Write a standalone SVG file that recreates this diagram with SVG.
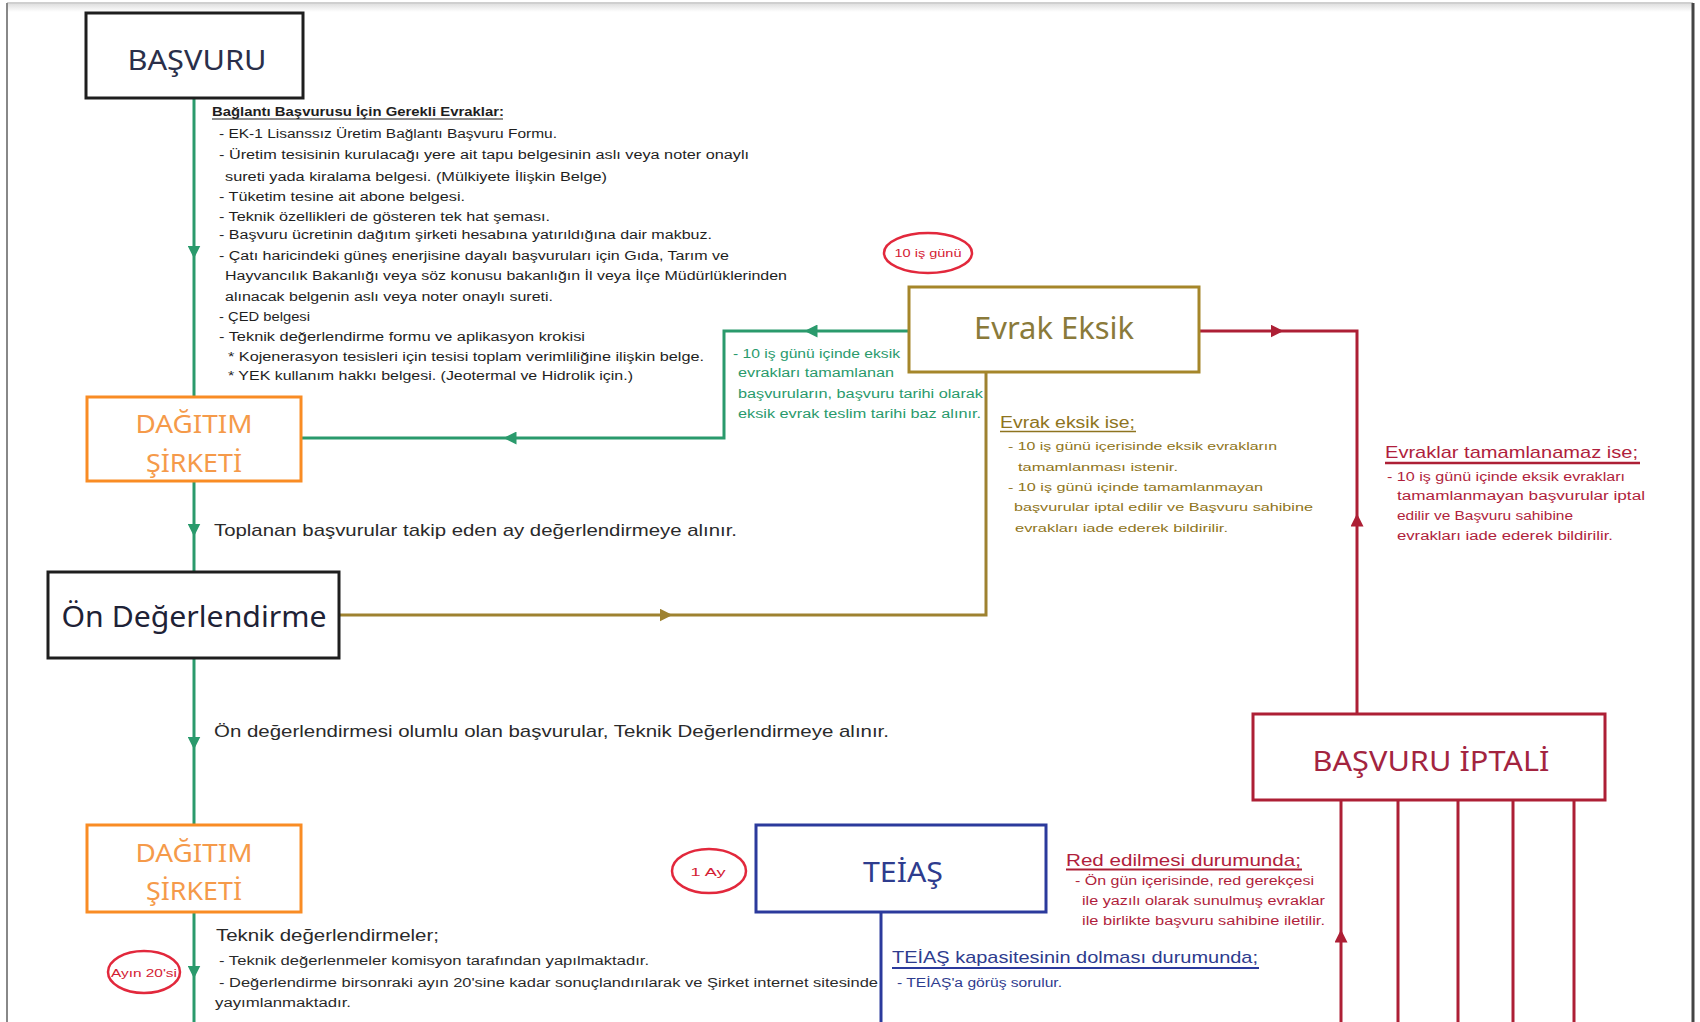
<svg xmlns="http://www.w3.org/2000/svg" width="1700" height="1022" viewBox="0 0 1700 1022">
<defs>
<style>
.box{fill:#fff;stroke-width:3}
.bt{font-family:"Noto Sans","Open Sans","Liberation Sans",sans-serif;text-anchor:middle}
.t{font-family:"Liberation Sans","Noto Sans",Arial,sans-serif}
.blk{fill:#1e1e1e;font-size:12.5px}
.g{stroke:#2a9a6c;stroke-width:3;fill:none}
.o{stroke:#9e8230;stroke-width:3;fill:none}
.r{stroke:#ad1f35;stroke-width:3;fill:none}
.b{stroke:#2b3a9c;stroke-width:3;fill:none}
.ell{fill:#fff;stroke:#e2283c;stroke-width:2.5}
.et{fill:#d42033;font-size:11.5px;text-anchor:middle}
</style>
<marker id="ag" markerUnits="userSpaceOnUse" markerWidth="13" markerHeight="13" refX="6.5" refY="6.5" orient="auto"><path d="M0,0 L13,6.5 L0,13 z" fill="#2a9a6c"/></marker>
<marker id="ao" markerUnits="userSpaceOnUse" markerWidth="13" markerHeight="13" refX="6.5" refY="6.5" orient="auto"><path d="M0,0 L13,6.5 L0,13 z" fill="#9e8230"/></marker>
<marker id="ar" markerUnits="userSpaceOnUse" markerWidth="13" markerHeight="13" refX="6.5" refY="6.5" orient="auto"><path d="M0,0 L13,6.5 L0,13 z" fill="#ad1f35"/></marker>
<linearGradient id="sh" x1="0" y1="0" x2="0" y2="1"><stop offset="0" stop-color="#d8d8d8"/><stop offset="1" stop-color="#fff"/></linearGradient>
</defs>
<rect width="1700" height="1022" fill="#fff"/>
<g id="frame">
<rect x="7" y="2" width="1686" height="10" fill="url(#sh)"/>
<line x1="7" y1="3" x2="1693" y2="3" stroke="#cfcfcf" stroke-width="2"/>
<line x1="7" y1="3" x2="7" y2="1022" stroke="#888" stroke-width="2"/>
<line x1="1693" y1="3" x2="1693" y2="1022" stroke="#444" stroke-width="3"/>
</g>
<g id="connectors">
<path class="g" d="M194 98 L194 252" marker-end="url(#ag)"/>
<path class="g" d="M194 252 L194 397"/>
<path class="g" d="M194 481 L194 530" marker-end="url(#ag)"/>
<path class="g" d="M194 530 L194 572"/>
<path class="g" d="M194 658 L194 743" marker-end="url(#ag)"/>
<path class="g" d="M194 743 L194 826"/>
<path class="g" d="M194 912 L194 972" marker-end="url(#ag)"/>
<path class="g" d="M194 972 L194 1022"/>
<path class="g" d="M909 331 L811 331" marker-end="url(#ag)"/>
<path class="g" d="M811 331 L724 331 L724 438 L510 438" marker-end="url(#ag)"/>
<path class="g" d="M510 438 L301 438"/>
<path class="o" d="M339 615 L666 615" marker-end="url(#ao)"/>
<path class="o" d="M666 615 L986 615 L986 372"/>
<path class="r" d="M1199 331 L1277 331" marker-end="url(#ar)"/>
<path class="r" d="M1277 331 L1357 331 L1357 520"/>
<path class="r" d="M1357 713 L1357 520" marker-end="url(#ar)"/>
<path class="r" d="M1341 1022 L1341 936" marker-end="url(#ar)"/>
<path class="r" d="M1341 936 L1341 800"/>
<path class="r" d="M1398 800 L1398 1022"/>
<path class="r" d="M1458 800 L1458 1022"/>
<path class="r" d="M1513 800 L1513 1022"/>
<path class="r" d="M1574 800 L1574 1022"/>
<path class="b" d="M881 912 L881 1022"/>
</g>
<g id="basvuru">
<rect class="box" x="86" y="13" width="217" height="85" stroke="#1e1e1e"/>
<text class="bt" x="197" y="70" font-size="28" fill="#2a2f4a" textLength="139" lengthAdjust="spacingAndGlyphs">BAŞVURU</text>
</g>
<g id="evrak-listesi" class="t blk">
<text x="212" y="116" font-weight="bold" textLength="292" lengthAdjust="spacingAndGlyphs">Bağlantı Başvurusu İçin Gerekli Evraklar:</text>
<line x1="212" y1="119" x2="503" y2="119" stroke="#1e1e1e" stroke-width="1.2"/>
<text x="219" y="137.5" textLength="338" lengthAdjust="spacingAndGlyphs">- EK-1 Lisanssız Üretim Bağlantı Başvuru Formu.</text>
<text x="219" y="159" textLength="530" lengthAdjust="spacingAndGlyphs">- Üretim tesisinin kurulacağı yere ait tapu belgesinin aslı veya noter onaylı</text>
<text x="225" y="180.5" textLength="382" lengthAdjust="spacingAndGlyphs">sureti yada kiralama belgesi. (Mülkiyete İlişkin Belge)</text>
<text x="219" y="200.5" textLength="246" lengthAdjust="spacingAndGlyphs">- Tüketim tesine ait abone belgesi.</text>
<text x="219" y="221" textLength="331" lengthAdjust="spacingAndGlyphs">- Teknik özellikleri de gösteren tek hat şeması.</text>
<text x="219" y="239" textLength="493" lengthAdjust="spacingAndGlyphs">- Başvuru ücretinin dağıtım şirketi hesabına yatırıldığına dair makbuz.</text>
<text x="219" y="259.5" textLength="510" lengthAdjust="spacingAndGlyphs">- Çatı haricindeki güneş enerjisine dayalı başvuruları için Gıda, Tarım ve</text>
<text x="225" y="280" textLength="562" lengthAdjust="spacingAndGlyphs">Hayvancılık Bakanlığı veya söz konusu bakanlığın İl veya İlçe Müdürlüklerinden</text>
<text x="225" y="300.5" textLength="328" lengthAdjust="spacingAndGlyphs">alınacak belgenin aslı veya noter onaylı sureti.</text>
<text x="219" y="320.5" textLength="91" lengthAdjust="spacingAndGlyphs">- ÇED belgesi</text>
<text x="219" y="340.5" textLength="366" lengthAdjust="spacingAndGlyphs">- Teknik değerlendirme formu ve aplikasyon krokisi</text>
<text x="228" y="361" textLength="476" lengthAdjust="spacingAndGlyphs">* Kojenerasyon tesisleri için tesisi toplam verimliliğine ilişkin belge.</text>
<text x="228" y="379.5" textLength="405" lengthAdjust="spacingAndGlyphs">* YEK kullanım hakkı belgesi. (Jeotermal ve Hidrolik için.)</text>
</g>
<g id="dagitim-1">
<rect class="box" x="87" y="397" width="214" height="84" stroke="#f98c24"/>
<text class="bt" x="194" y="433" font-size="25" fill="#f59a4a" textLength="117" lengthAdjust="spacingAndGlyphs">DAĞITIM</text>
<text class="bt" x="194" y="472" font-size="25" fill="#f59a4a" textLength="96" lengthAdjust="spacingAndGlyphs">ŞİRKETİ</text>
</g>
<g id="yesil-not" class="t" fill="#2a9a6c" font-size="12">
<text x="733" y="357.5" textLength="167" lengthAdjust="spacingAndGlyphs">- 10 iş günü içinde eksik</text>
<text x="738" y="377" textLength="156" lengthAdjust="spacingAndGlyphs">evrakları tamamlanan</text>
<text x="738" y="397.5" textLength="245" lengthAdjust="spacingAndGlyphs">başvuruların, başvuru tarihi olarak</text>
<text x="738" y="417.5" textLength="243" lengthAdjust="spacingAndGlyphs">eksik evrak teslim tarihi baz alınır.</text>
</g>
<g id="sure-10-is-gunu">
<ellipse class="ell" cx="928" cy="253" rx="44" ry="20"/>
<text class="t et" x="928" y="257" textLength="67" lengthAdjust="spacingAndGlyphs">10 iş günü</text>
</g>
<g id="evrak-eksik">
<rect class="box" x="909" y="287" width="290" height="85" stroke="#a5862a"/>
<text class="bt" x="1054" y="339" font-size="31" fill="#8a7a3a" textLength="160" lengthAdjust="spacingAndGlyphs">Evrak Eksik</text>
</g>
<g id="evrak-eksik-not" class="t" fill="#8e7420">
<text x="1000" y="428" font-size="16" textLength="135" lengthAdjust="spacingAndGlyphs">Evrak eksik ise;</text>
<line x1="1000" y1="431.5" x2="1136" y2="431.5" stroke="#8e7420" stroke-width="1.3"/>
<text x="1008" y="450" font-size="11.5" textLength="269" lengthAdjust="spacingAndGlyphs">- 10 iş günü içerisinde eksik evrakların</text>
<text x="1018" y="471" font-size="11.5" textLength="160" lengthAdjust="spacingAndGlyphs">tamamlanması istenir.</text>
<text x="1008" y="491" font-size="11.5" textLength="255" lengthAdjust="spacingAndGlyphs">- 10 iş günü içinde tamamlanmayan</text>
<text x="1014" y="511" font-size="11.5" textLength="299" lengthAdjust="spacingAndGlyphs">başvurular iptal edilir ve Başvuru sahibine</text>
<text x="1015" y="532" font-size="11.5" textLength="213" lengthAdjust="spacingAndGlyphs">evrakları iade ederek bildirilir.</text>
</g>
<g id="tamamlanamaz-not" class="t" fill="#b01e3c">
<text x="1385" y="458" font-size="17" textLength="253" lengthAdjust="spacingAndGlyphs">Evraklar tamamlanamaz ise;</text>
<line x1="1385" y1="463" x2="1640" y2="463" stroke="#ad1f35" stroke-width="2.5"/>
<text x="1387" y="481" font-size="12" textLength="238" lengthAdjust="spacingAndGlyphs">- 10 iş günü içinde eksik evrakları</text>
<text x="1397" y="500" font-size="12" textLength="248" lengthAdjust="spacingAndGlyphs">tamamlanmayan  başvurular iptal</text>
<text x="1397" y="519.5" font-size="12" textLength="176" lengthAdjust="spacingAndGlyphs">edilir ve Başvuru sahibine</text>
<text x="1397" y="540" font-size="12" textLength="216" lengthAdjust="spacingAndGlyphs">evrakları iade ederek bildirilir.</text>
</g>
<g id="toplanan-not" class="t">
<text x="214" y="535.5" font-size="17" fill="#2a2a2a" textLength="523" lengthAdjust="spacingAndGlyphs">Toplanan başvurular takip eden ay değerlendirmeye alınır.</text>
</g>
<g id="on-degerlendirme">
<rect class="box" x="48" y="572" width="291" height="86" stroke="#1e1e1e"/>
<text class="bt" x="194" y="627" font-size="29" fill="#1e2236" textLength="265" lengthAdjust="spacingAndGlyphs">Ön Değerlendirme</text>
</g>
<g id="olumlu-not" class="t">
<text x="214" y="737" font-size="17" fill="#2a2a2a" textLength="675" lengthAdjust="spacingAndGlyphs">Ön değerlendirmesi olumlu olan başvurular, Teknik Değerlendirmeye alınır.</text>
</g>
<g id="basvuru-iptali">
<rect class="box" x="1253" y="714" width="352" height="86" stroke="#ad1f35"/>
<text class="bt" x="1431" y="771" font-size="27" fill="#a3243f" textLength="237" lengthAdjust="spacingAndGlyphs">BAŞVURU İPTALİ</text>
</g>
<g id="dagitim-2">
<rect class="box" x="87" y="825" width="214" height="87" stroke="#f98c24"/>
<text class="bt" x="194" y="862" font-size="25" fill="#f59a4a" textLength="117" lengthAdjust="spacingAndGlyphs">DAĞITIM</text>
<text class="bt" x="194" y="900" font-size="25" fill="#f59a4a" textLength="96" lengthAdjust="spacingAndGlyphs">ŞİRKETİ</text>
</g>
<g id="sure-1-ay">
<ellipse class="ell" cx="709" cy="871" rx="37" ry="22"/>
<text class="t et" x="708" y="875.5" font-size="12" textLength="35" lengthAdjust="spacingAndGlyphs">1 Ay</text>
</g>
<g id="teias">
<rect class="box" x="756" y="825" width="290" height="87" stroke="#2b3a9c"/>
<text class="bt" x="903" y="882" font-size="28" fill="#2e3c8e" textLength="80" lengthAdjust="spacingAndGlyphs">TEİAŞ</text>
</g>
<g id="red-not" class="t" fill="#b01e3c">
<text x="1066" y="866" font-size="17" textLength="235" lengthAdjust="spacingAndGlyphs">Red edilmesi durumunda;</text>
<line x1="1066" y1="869.5" x2="1302" y2="869.5" stroke="#ad1f35" stroke-width="1.8"/>
<text x="1075" y="884.5" font-size="12" textLength="239" lengthAdjust="spacingAndGlyphs">- Ön gün içerisinde, red gerekçesi</text>
<text x="1082" y="904.5" font-size="12" textLength="243" lengthAdjust="spacingAndGlyphs">ile yazılı olarak sunulmuş evraklar</text>
<text x="1082" y="924.5" font-size="12" textLength="243" lengthAdjust="spacingAndGlyphs">ile birlikte başvuru sahibine iletilir.</text>
</g>
<g id="teias-not" class="t" fill="#2e3c8e">
<text x="892" y="963" font-size="17" textLength="366" lengthAdjust="spacingAndGlyphs">TEİAŞ kapasitesinin dolması durumunda;</text>
<line x1="892" y1="968" x2="1259" y2="968" stroke="#2b3a9c" stroke-width="1.8"/>
<text x="897" y="987" font-size="12" textLength="165" lengthAdjust="spacingAndGlyphs">- TEİAŞ'a görüş sorulur.</text>
</g>
<g id="sure-ayin-20si">
<ellipse class="ell" cx="144" cy="972" rx="36" ry="21"/>
<text class="t et" x="144" y="976.5" font-size="12" textLength="66" lengthAdjust="spacingAndGlyphs">Ayın 20'si</text>
</g>
<g id="teknik-not" class="t" fill="#2a2a2a">
<text x="216" y="941" font-size="17" textLength="223" lengthAdjust="spacingAndGlyphs">Teknik değerlendirmeler;</text>
<text x="219" y="964.5" font-size="12.5" textLength="430" lengthAdjust="spacingAndGlyphs">- Teknik değerlenmeler komisyon tarafından yapılmaktadır.</text>
<text x="219" y="986.5" font-size="12.5" textLength="659" lengthAdjust="spacingAndGlyphs">- Değerlendirme birsonraki ayın 20'sine kadar sonuçlandırılarak ve Şirket internet sitesinde</text>
<text x="215" y="1006.5" font-size="12.5" textLength="136" lengthAdjust="spacingAndGlyphs">yayımlanmaktadır.</text>
</g>
</svg>
